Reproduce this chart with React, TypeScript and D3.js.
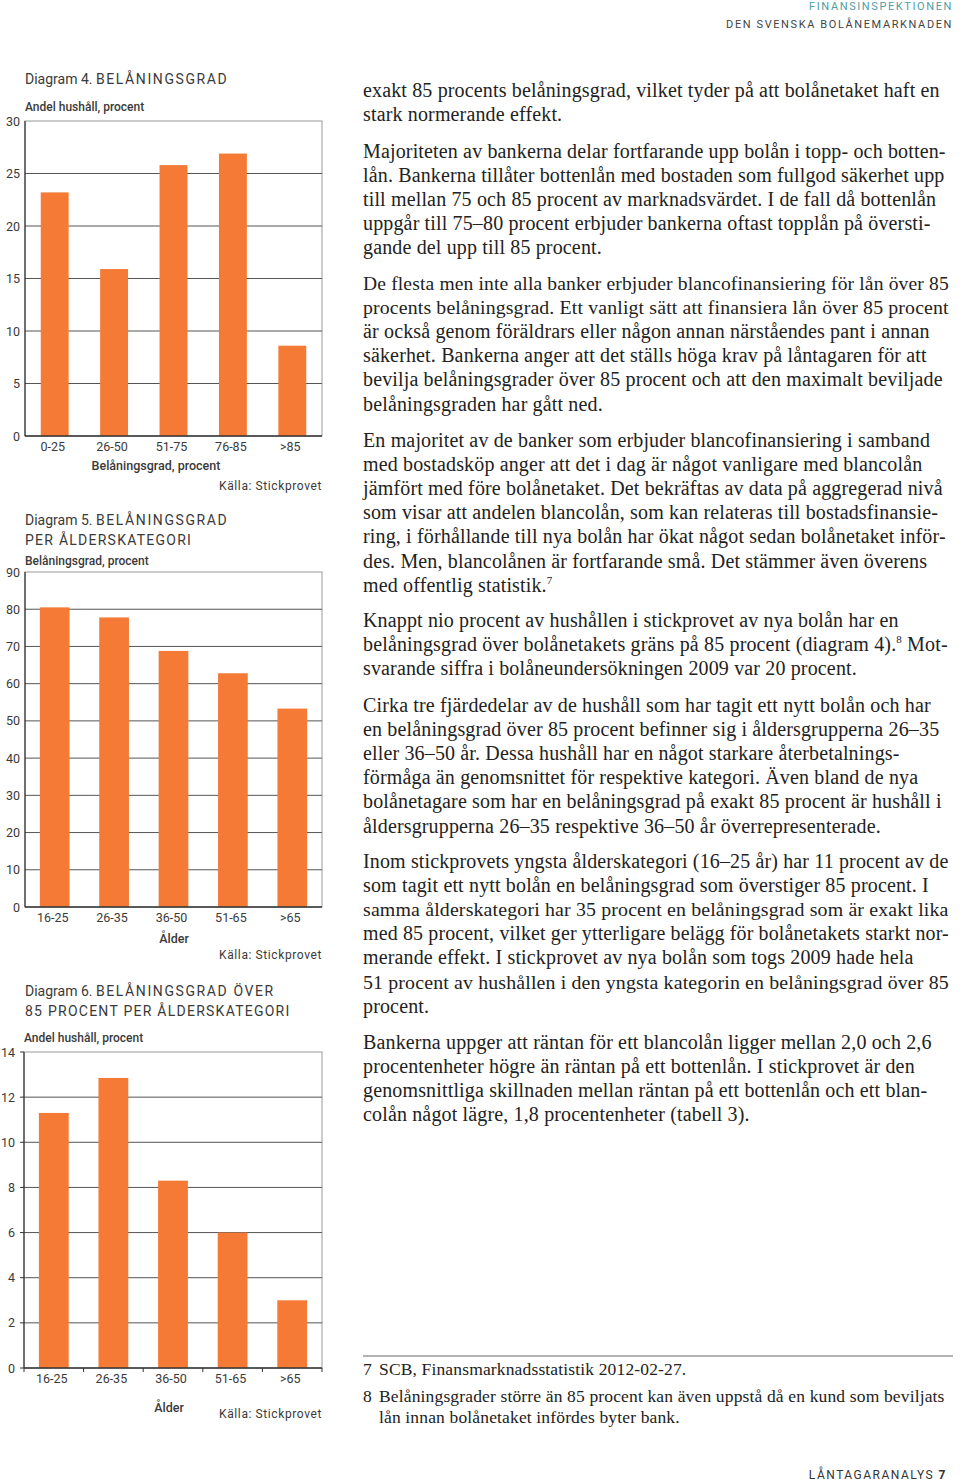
import React, { useLayoutEffect, useRef } from 'react';
import * as d3 from 'd3';

// Diagram 4
const ltvBands = ['0-25', '26-50', '51-75', '76-85', '>85'];
const ltvShare = [23.2, 15.9, 25.8, 26.9, 8.6];

// Diagram 5
const ageGroups = ['16-25', '26-35', '36-50', '51-65', '>65'];
const ltvByAge = [80.5, 77.8, 68.8, 62.8, 53.3];

// Diagram 6
const over85ByAge = [11.3, 12.85, 8.3, 6.0, 3.0];

const paragraphs = [
  ['exakt 85 procents belåningsgrad, vilket tyder på att bolånetaket haft en',
    'stark normerande effekt.'],
  ['Majoriteten av bankerna delar fortfarande upp bolån i topp- och botten-',
    'lån. Bankerna tillåter bottenlån med bostaden som fullgod säkerhet upp',
    'till mellan 75 och 85 procent av marknadsvärdet. I de fall då bottenlån',
    'uppgår till 75–80 procent erbjuder bankerna oftast topplån på översti-',
    'gande del upp till 85 procent.'],
  ['De flesta men inte alla banker erbjuder blancofinansiering för lån över 85',
    'procents belåningsgrad. Ett vanligt sätt att finansiera lån över 85 procent',
    'är också genom föräldrars eller någon annan närståendes pant i annan',
    'säkerhet. Bankerna anger att det ställs höga krav på låntagaren för att',
    'bevilja belåningsgrader över 85 procent och att den maximalt beviljade',
    'belåningsgraden har gått ned.'],
  ['En majoritet av de banker som erbjuder blancofinansiering i samband',
    'med bostadsköp anger att det i dag är något vanligare med blancolån',
    'jämfört med före bolånetaket. Det bekräftas av data på aggregerad nivå',
    'som visar att andelen blancolån, som kan relateras till bostadsfinansie-',
    'ring, i förhållande till nya bolån har ökat något sedan bolånetaket inför-',
    'des. Men, blancolånen är fortfarande små. Det stämmer även överens',
    'med offentlig statistik.^7'],
  ['Knappt nio procent av hushållen i stickprovet av nya bolån har en',
    'belåningsgrad över bolånetakets gräns på 85 procent (diagram 4).^8 Mot-',
    'svarande siffra i bolåneundersökningen 2009 var 20 procent.'],
  ['Cirka tre fjärdedelar av de hushåll som har tagit ett nytt bolån och har',
    'en belåningsgrad över 85 procent befinner sig i åldersgrupperna 26–35',
    'eller 36–50 år. Dessa hushåll har en något starkare återbetalnings-',
    'förmåga än genomsnittet för respektive kategori. Även bland de nya',
    'bolånetagare som har en belåningsgrad på exakt 85 procent är hushåll i',
    'åldersgrupperna 26–35 respektive 36–50 år överrepresenterade.'],
  ['Inom stickprovets yngsta ålderskategori (16–25 år) har 11 procent av de',
    'som tagit ett nytt bolån en belåningsgrad som överstiger 85 procent. I',
    'samma ålderskategori har 35 procent en belåningsgrad som är exakt lika',
    'med 85 procent, vilket ger ytterligare belägg för bolånetakets starkt nor-',
    'merande effekt. I stickprovet av nya bolån som togs 2009 hade hela',
    '51 procent av hushållen i den yngsta kategorin en belåningsgrad över 85',
    'procent.'],
  ['Bankerna uppger att räntan för ett blancolån ligger mellan 2,0 och 2,6',
    'procentenheter högre än räntan på ett bottenlån. I stickprovet är den',
    'genomsnittliga skillnaden mellan räntan på ett bottenlån och ett blan-',
    'colån något lägre, 1,8 procentenheter (tabell 3).'],
];
const paragraphTops = [97, 158, 290, 447, 627, 712, 868, 1049];

const footnotes = [
  { n: '7', lines: ['SCB, Finansmarknadsstatistik 2012-02-27.'] },
  { n: '8', lines: ['Belåningsgrader större än 85 procent kan även uppstå då en kund som beviljats',
    'lån innan bolånetaket infördes byter bank.'] },
];

const ORANGE = '#f47a36';
const INK = '#3a3a3a';
const SANS = 'Roboto, "DejaVu Sans", sans-serif';
const SERIF = '"Liberation Serif", "DejaVu Serif", serif';
const BODY_SIZE = 20;

interface ChartProps {
  categories: string[];
  values: number[];
  max: number;
  step: number;
  left: number; right: number; top: number; bottom: number;
  inner: number;
  titleNum: string;
  titleLines: string[];
  titleY: number;
  subtitle: string;
  subtitleY: number;
  labelRight: number;
  xLabel: string;
  xLabelX: number;
  xLabelY: number;
  sourceY: number;
  ticks?: boolean;
}

function BarChart(p: ChartProps) {
  const x = d3.scaleBand<string>().domain(p.categories)
    .range([p.left, p.right]).paddingInner(p.inner).paddingOuter(p.inner / 2);
  const y = d3.scaleLinear().domain([0, p.max]).range([p.bottom, p.top]);
  const yTicks = d3.range(0, p.max + p.step / 2, p.step);
  return (
    <g>
      {p.titleLines.map((t, i) => (
        <text key={i} x={25} y={p.titleY + i * 19.5} fontFamily={SANS} fontSize={14}
          fill={INK} letterSpacing={i === 0 ? 0 : 1.25}>
          {i === 0 ? <><tspan>{p.titleNum} </tspan><tspan letterSpacing={1.6}>{t}</tspan></> : t}
        </text>
      ))}
      <text x={p.left} y={p.subtitleY} fontFamily={SANS} fontSize={12} fontWeight={500}
        fill={INK}>{p.subtitle}</text>
      <rect x={p.left} y={p.top} width={p.right - p.left} height={p.bottom - p.top}
        fill="none" stroke="#9a9a9a" strokeWidth={1} />
      {yTicks.map(t => (
        <g key={t}>
          {t > 0 && t < p.max && (
            <line x1={p.left} x2={p.right} y1={y(t)} y2={y(t)} stroke="#555" strokeWidth={1} />
          )}
          {p.ticks && (
            <line x1={p.left - 4} x2={p.left} y1={y(t)} y2={y(t)} stroke="#333" />
          )}
          <text x={p.labelRight} y={y(t) + 4.5} textAnchor="end" fontFamily={SANS}
            fontSize={12.5} fill={INK}>{t}</text>
        </g>
      ))}
      {p.values.map((v, i) => (
        <rect key={i} x={x(p.categories[i])} y={y(v)} width={x.bandwidth()}
          height={y(0) - y(v)} fill={ORANGE} />
      ))}
      <line x1={p.left} x2={p.left} y1={p.top} y2={p.bottom} stroke="#333" strokeWidth={1.2} />
      <line x1={p.left} x2={p.right} y1={p.bottom} y2={p.bottom} stroke="#333" strokeWidth={1.4} />
      {p.ticks && d3.range(p.categories.length + 1).map(i => {
        const xx = p.left + (i * (p.right - p.left)) / p.categories.length;
        return <line key={i} x1={xx} x2={xx} y1={p.bottom} y2={p.bottom + 4} stroke="#333" />;
      })}
      {p.categories.map(c => (
        <text key={c} x={(x(c) ?? 0) + x.bandwidth() / 2 - 2} y={p.bottom + 15}
          textAnchor="middle" fontFamily={SANS} fontSize={12.5} fill={INK}>{c}</text>
      ))}
      <text x={p.xLabelX} y={p.xLabelY} textAnchor="middle" fontFamily={SANS} fontSize={12.5}
        fontWeight={500} fill={INK}>{p.xLabel}</text>
      <text x={p.right} y={p.sourceY} textAnchor="end" fontFamily={SANS} fontSize={12}
        letterSpacing={0.6} fill={INK}>Källa: Stickprovet</text>
    </g>
  );
}

function Line({ text, x, y }: { text: string; x: number; y: number }) {
  const parts = text.split(/\^(\d)/);
  return (
    <text className="body-line" x={x} y={y} fontFamily={SERIF} fontSize={BODY_SIZE}
      letterSpacing={0.15} fill="#222">
      {parts.map((s, i) => i % 2 === 1
        ? <tspan key={i} fontSize={11} dy={-8}>{s}</tspan>
        : <tspan key={i} dy={i > 0 ? 8 : 0}>{s}</tspan>)}
    </text>
  );
}

export default function App() {
  const svgRef = useRef<SVGSVGElement | null>(null);

  // shrink any body line that would run past the right margin
  useLayoutEffect(() => {
    const maxW = 586;
    d3.select(svgRef.current).selectAll<SVGTextElement, unknown>('text.body-line')
      .each(function () {
        const w = this.getComputedTextLength();
        if (w > maxW) {
          d3.select(this).attr('font-size', (BODY_SIZE * maxW) / w);
        }
      });
  }, []);

  return (
    <svg ref={svgRef} width={960} height={1482} viewBox="0 0 960 1482"
      style={{ position: 'absolute', left: 0, top: 0, background: '#fff' }}>
      <rect width={960} height={1482} fill="#fff" />
      <text x={953} y={10} textAnchor="end" fontFamily={SANS} fontSize={11} letterSpacing={1.6}
        fill="#4f9ea6">FINANSINSPEKTIONEN</text>
      <text x={953} y={28} textAnchor="end" fontFamily={SANS} fontSize={11} letterSpacing={1.6}
        fill="#444">DEN SVENSKA BOLÅNEMARKNADEN</text>

      <BarChart categories={ltvBands} values={ltvShare} max={30} step={5}
        left={25} right={322} top={121} bottom={436} inner={0.53}
        titleNum="Diagram 4." titleLines={['BELÅNINGSGRAD']} titleY={84}
        subtitle="Andel hushåll, procent" subtitleY={111} labelRight={20}
        xLabel="Belåningsgrad, procent" xLabelX={156} xLabelY={470} sourceY={490} />

      <BarChart categories={ageGroups} values={ltvByAge} max={90} step={10}
        left={25} right={322} top={572} bottom={907} inner={0.5}
        titleNum="Diagram 5." titleLines={['BELÅNINGSGRAD', 'PER ÅLDERSKATEGORI']} titleY={525}
        subtitle="Belåningsgrad, procent" subtitleY={565} labelRight={20}
        xLabel="Ålder" xLabelX={174} xLabelY={943} sourceY={959} />

      <BarChart categories={ageGroups} values={over85ByAge} max={14} step={2}
        left={24} right={322} top={1052} bottom={1368} inner={0.5}
        titleNum="Diagram 6." titleLines={['BELÅNINGSGRAD ÖVER', '85 PROCENT PER ÅLDERSKATEGORI']}
        titleY={996} subtitle="Andel hushåll, procent" subtitleY={1042} labelRight={15}
        xLabel="Ålder" xLabelX={169} xLabelY={1412} sourceY={1418} ticks />

      {paragraphs.map((lines, pi) => lines.map((l, li) => (
        <Line key={`${pi}-${li}`} text={l} x={363} y={paragraphTops[pi] + li * 24.1} />
      )))}

      <line x1={363} x2={953} y1={1356} y2={1356} stroke="#999" strokeWidth={1.5} />
      {footnotes.map((f, fi) => (
        <g key={f.n}>
          <text x={363} y={1375 + fi * 27} fontFamily={SERIF} fontSize={17.5} fill="#222">{f.n}</text>
          {f.lines.map((l, li) => (
            <text key={li} x={379} y={1375 + fi * 27 + li * 21} fontFamily={SERIF} fontSize={17.5}
              letterSpacing={0.15} fill="#222">{l}</text>
          ))}
        </g>
      ))}

      <text x={947} y={1479} textAnchor="end" fontFamily={SANS} fontSize={12} letterSpacing={1.5}
        fill="#333">LÅNTAGARANALYS <tspan fontWeight={700}>7</tspan></text>
    </svg>
  );
}
